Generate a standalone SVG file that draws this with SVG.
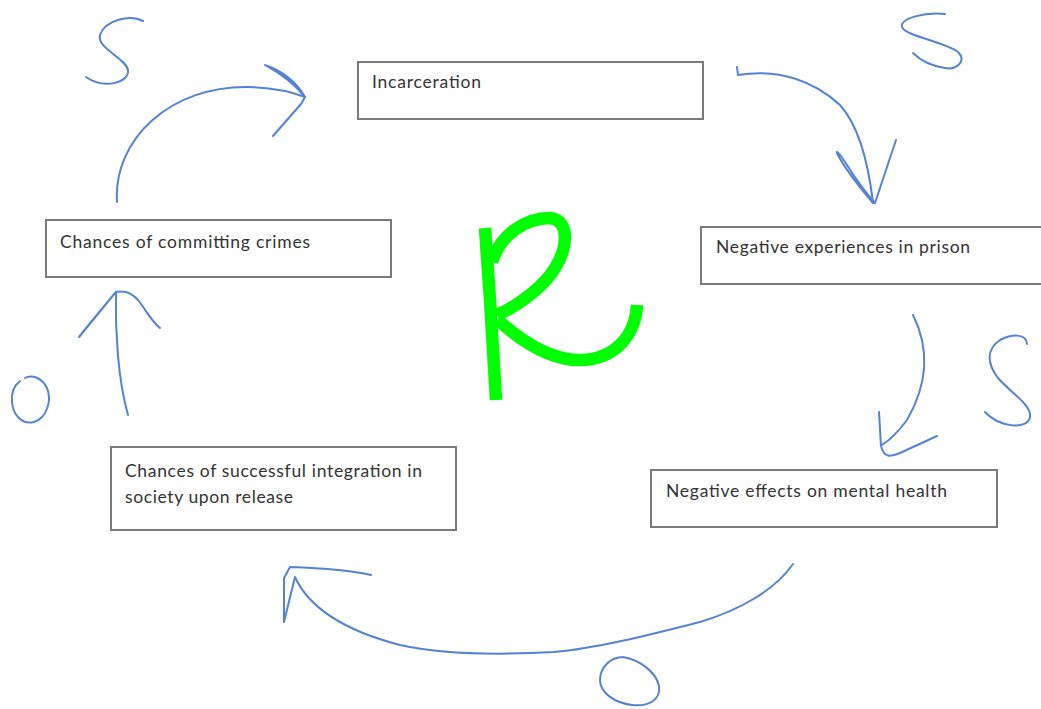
<svg xmlns="http://www.w3.org/2000/svg" width="1041" height="709" viewBox="0 0 1041 709">
<style>
.box{fill:#ffffff;stroke:#7a7a7a;stroke-width:2}
.lbl{font-family:Lato,"Liberation Sans",Arial,sans-serif;font-size:17.5px;fill:#333333}
.ink{fill:none;stroke:#5583d3;stroke-width:2;stroke-linecap:round;stroke-linejoin:round}
.r{fill:none;stroke:#00ff00;stroke-width:12.5;stroke-linejoin:round}
</style>
<rect width="1041" height="709" fill="#ffffff"/>
<g id="incarceration">
<rect class="box" x="358" y="62" width="345" height="57"/>
<text class="lbl" x="372" y="88" textLength="109" lengthAdjust="spacing">Incarceration</text>
</g>
<g id="crimes">
<rect class="box" x="46" y="220" width="345" height="57"/>
<text class="lbl" x="60" y="248" textLength="250" lengthAdjust="spacing">Chances of committing crimes</text>
</g>
<g id="prison">
<rect class="box" x="701" y="227" width="345" height="57"/>
<text class="lbl" x="716" y="253" textLength="254" lengthAdjust="spacing">Negative experiences in prison</text>
</g>
<g id="integration">
<rect class="box" x="111" y="447" width="345" height="83"/>
<text class="lbl" x="125" y="477" textLength="297" lengthAdjust="spacing">Chances of successful integration in</text>
<text class="lbl" x="125" y="503" textLength="168" lengthAdjust="spacing">society upon release</text>
</g>
<g id="mental">
<rect class="box" x="651" y="470" width="346" height="57"/>
<text class="lbl" x="666" y="497" textLength="281" lengthAdjust="spacing">Negative effects on mental health</text>
</g>
<g id="connectors">
<path class="ink" d="M117,202 C113,140 170,85 250,87 C275,88 295,93 305,97"/>
<path class="ink" d="M265,65 C285,72 298,85 305,97 C296,86 282,74 267,66 M305,97 L301,104 L273,136"/>
<path class="ink" d="M737,67 L738,75 C780,68 815,82 840,105 C858,125 868,160 873,203"/>
<path class="ink" d="M873,203 C862,190 845,170 837,153 C836,150 840,154 845,162 C855,178 866,193 875,203 L896,140"/>
<path class="ink" d="M913,315 C928,345 930,380 907,420 C898,432 890,440 882,445"/>
<path class="ink" d="M879,412 L881,446 C884,458 890,457 900,453 L937,436"/>
<path class="ink" d="M128,415 C118,380 115,330 116,292"/>
<path class="ink" d="M79,337 L115,293 L82,333 M116,292 C125,290 132,293 138,300 C146,310 152,322 160,328"/>
<path class="ink" d="M793,564 C775,590 740,610 700,622 C660,632 600,648 554,652 C500,655 440,654 400,645 C350,632 310,610 295,577 L284,622 L284,578 L290,567 C320,568 350,570 371,575"/>
</g>
<g id="labels">
<path class="ink" d="M143,21 C130,14 105,20 100,35 C96,48 126,58 128,70 C130,82 105,90 86,77"/>
<path class="ink" d="M945,14 C925,12 900,18 902,27 C905,36 945,42 958,52 C968,62 955,70 945,68 C932,66 920,60 913,53"/>
<path class="ink" d="M1027,344 C1026,332 1010,335 1000,340 C985,350 988,365 998,378 C1010,392 1032,405 1030,417 C1028,430 1000,428 985,412"/>
<path class="ink" d="M25,378 C32,374 42,378 47,388 C52,400 47,418 34,422 C22,425 13,415 12,402 C11,392 15,385 20,381"/>
<path class="ink" d="M623,657 C640,660 656,672 659,686 C661,700 648,707 632,705 C615,703 600,693 600,680 C600,668 610,657 623,657"/>
</g>
<g id="R">
<path class="r" d="M485,228 L490,300 L496,400"/>
<path class="r" d="M492,262 C500,235 525,218 550,218 C570,220 568,247 555,268 C545,285 520,305 497,315"/>
<path class="r" d="M498,320 C520,340 550,360 580,360 C610,360 635,340 637,305"/>
</g>
</svg>
